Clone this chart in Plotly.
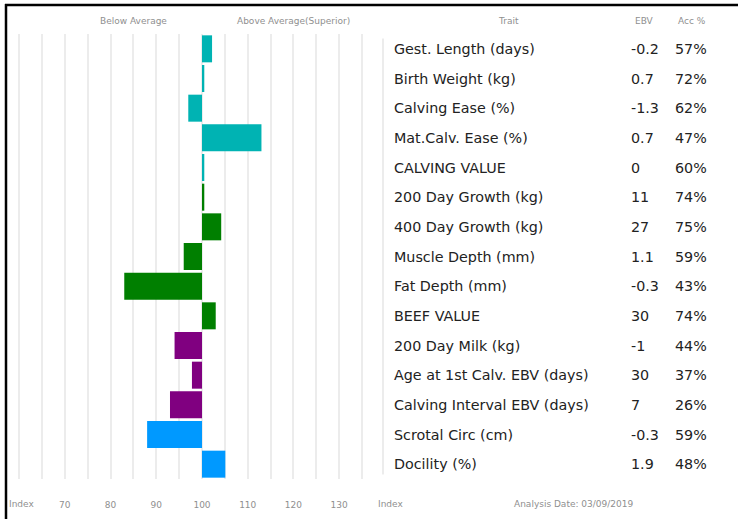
import plotly.graph_objects as go

# ---- data ----
traits = ["Gest. Length (days)", "Birth Weight (kg)", "Calving Ease (%)", "Mat.Calv. Ease (%)",
          "CALVING VALUE", "200 Day Growth (kg)", "400 Day Growth (kg)", "Muscle Depth (mm)",
          "Fat Depth (mm)", "BEEF VALUE", "200 Day Milk (kg)", "Age at 1st Calv. EBV (days)",
          "Calving Interval EBV (days)", "Scrotal Circ (cm)", "Docility (%)"]
ebv = ["-0.2", "0.7", "-1.3", "0.7", "0", "11", "27", "1.1", "-0.3", "30", "-1", "30", "7", "-0.3", "1.9"]
acc = ["57%", "72%", "62%", "47%", "60%", "74%", "75%", "59%", "43%", "74%", "44%", "37%", "26%", "59%", "48%"]
index_values = [102.2, 100.5, 97, 113, 100.5, 100.5, 104.2, 96, 83, 103, 94, 97.8, 93, 88, 105.1]
groups = ["calving"] * 5 + ["growth"] * 5 + ["fertility"] * 3 + ["other"] * 2
tick_values = [70, 80, 90, 100, 110, 120, 130]
tick_labels = ["70", "80", "90", "100", "110", "120", "130"]
analysis_date = "Analysis Date: 03/09/2019"

# ---- styles ----
group_colors = {"calving": "#00B3B3", "growth": "#007F00", "fertility": "#800080", "other": "#0099FF"}
AVERAGE = 100
W, H = 738, 519
L, R, T, B = 8, 355, 34, 40
grey = "#8f8f8f"
font_main = "DejaVu Sans"
font_small = "DejaVu Sans"
small = 9

fig = go.Figure()
fig.add_trace(go.Bar(
    y=traits,
    x=[v - AVERAGE for v in index_values],
    base=AVERAGE,
    orientation="h",
    marker=dict(color=[group_colors[g] for g in groups], line=dict(width=0)),
    hoverinfo="skip",
))

pw = W - L - R
ph = H - T - B


def px(xp):
    return (xp - L) / pw


annotations = []
# table header
hdr_y = 1 + (T - 21) / ph
for text, xp in [("Trait", 508), ("EBV", 644), ("Acc %", 692)]:
    annotations.append(dict(x=px(xp), y=hdr_y, xref="paper", yref="paper", text=text,
                            showarrow=False, xanchor="center", yanchor="middle",
                            font=dict(size=small, color=grey, family=font_small)))
for text, xv in [("Below Average", 85), ("Above Average(Superior)", 120)]:
    annotations.append(dict(x=xv, y=hdr_y, xref="x", yref="paper", text=text,
                            showarrow=False, xanchor="center", yanchor="middle",
                            font=dict(size=small, color=grey, family=font_small)))
# table rows
for t, e, a in zip(traits, ebv, acc):
    for text, xp in [(t, 392), (e, 629), (a, 673)]:
        annotations.append(dict(x=px(xp), y=t, xref="paper", yref="y", text=text, showarrow=False,
                                xanchor="left", yanchor="middle",
                                font=dict(size=14.3, color="#222222", family=font_main)))
# bottom labels
bot_y = -(504 - (H - B)) / ph
for text, xp in [("Index", 21), ("Index", 390), (analysis_date, 573)]:
    annotations.append(dict(x=px(xp), y=bot_y, xref="paper", yref="paper", text=text,
                            showarrow=False, xanchor="center", yanchor="middle",
                            font=dict(size=small, color=grey, family=font_small)))

shapes = [
    # black frame lines (top and left)
    dict(type="line", xref="paper", yref="paper", x0=px(5), x1=px(W + 5),
         y0=1 + (T - 5) / ph, y1=1 + (T - 5) / ph, line=dict(color="black", width=2.5)),
    dict(type="line", xref="paper", yref="paper", x0=px(6), x1=px(6),
         y0=1 + (T - 4) / ph, y1=-(B + 5) / ph, line=dict(color="black", width=2.5)),
    # faint divider between chart and table
    dict(type="line", xref="paper", yref="paper", x0=1, x1=1, y0=0.01, y1=0.99,
         line=dict(color="#e6e6e6", width=1.5)),
]

scale = 4.573  # px per index unit
fig.update_layout(
    width=W, height=H,
    margin=dict(l=L, r=R, t=T, b=B, pad=0),
    paper_bgcolor="white", plot_bgcolor="white",
    showlegend=False,
    bargap=0.09,
    annotations=annotations,
    shapes=shapes,
    xaxis=dict(
        range=[AVERAGE - (202 - L) / scale, AVERAGE + (W - R - 202) / scale],
        tickmode="array", tickvals=tick_values, ticktext=tick_labels,
        showgrid=True, gridcolor="#ececec", gridwidth=1.5,
        minor=dict(tick0=60, dtick=5, showgrid=True, gridcolor="#ececec", gridwidth=1.5),
        zeroline=False, showline=False, ticks="",
        ticklabelstandoff=19,
        tickfont=dict(size=small, color=grey, family=font_small),
        fixedrange=True,
    ),
    yaxis=dict(
        type="category", categoryorder="array", categoryarray=traits,
        range=[len(traits) - 0.5, -0.5],
        showticklabels=False, showgrid=False, zeroline=False, showline=False,
        fixedrange=True,
    ),
)

fig.write_html("out.html", config={"displayModeBar": False})

# remove the default page margin so the figure sits at the window's top-left corner
with open("out.html", encoding="utf-8") as f:
    html = f.read()
html = html.replace("<head>", "<head><style>html,body{margin:0;padding:0;overflow:hidden;}</style>", 1)
with open("out.html", "w", encoding="utf-8") as f:
    f.write(html)
